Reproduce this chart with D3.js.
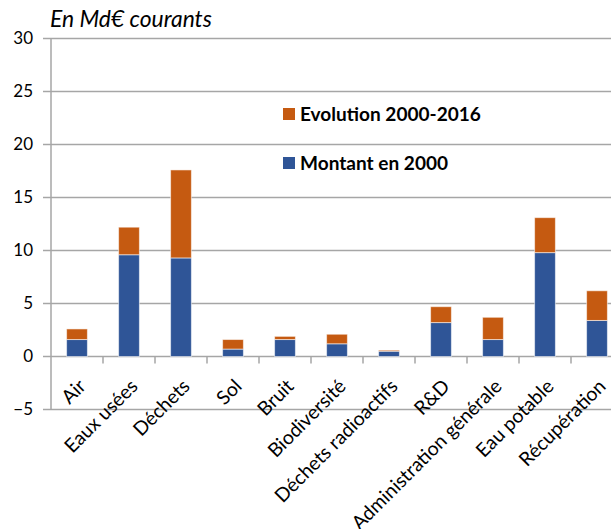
<!DOCTYPE html>
<html>
<head>
<meta charset="utf-8">
<script src="https://cdn.jsdelivr.net/npm/d3@7"></script>
<style>
  body { margin: 0; background: #fff; }
  svg text { font-family: Lato, "Liberation Sans", sans-serif; fill: #000; }
</style>
</head>
<body>
<div class="chart"></div>
<script>
// values (Md€)
const categories = ["Air", "Eaux usées", "Déchets", "Sol", "Bruit", "Biodiversité",
  "Déchets radioactifs", "R&D", "Administration générale", "Eau potable", "Récupération"];
const montant2000 = [1.6, 9.6, 9.3, 0.7, 1.6, 1.2, 0.5, 3.2, 1.6, 9.8, 3.4];
const evolution = [1.0, 2.6, 8.3, 0.9, 0.3, 0.9, 0.1, 1.5, 2.1, 3.3, 2.8];
const yTicks = [-5, 0, 5, 10, 15, 20, 25, 30];
const seriesNames = ["Montant en 2000", "Evolution 2000-2016"];
const colors = ["#2F5597", "#C55A11"];

const W = 611, H = 529;
const plotLeft = 51, plotRight = 623, plotTop = 38.5, plotBottom = 409.5;

const svg = d3.select(".chart").append("svg")
  .attr("width", W).attr("height", H);

// scale a text's font so it spans roughly the width seen in the original (Calibri there)
function fitFont(sel, width) {
  const n = sel.node();
  const fs = +sel.attr("font-size");
  sel.attr("font-size", fs * width / n.getComputedTextLength());
}

const rows = categories.map((c, i) => ({ cat: c, Montant: montant2000[i], Evolution: evolution[i] }));
const stack = d3.stack().keys(["Montant", "Evolution"]);
const series = stack(rows);

const x = d3.scaleBand().domain(categories).range([plotLeft, plotRight]).padding(0);
const y = d3.scaleLinear().domain([-5, 30]).range([plotBottom, plotTop]);

// gridlines
svg.append("g").selectAll("line")
  .data(yTicks)
  .join("line")
  .attr("x1", plotLeft - 8).attr("x2", plotRight)
  .attr("y1", d => y(d)).attr("y2", d => y(d))
  .attr("stroke", "#a6a6a6").attr("stroke-width", 1.5);

// y axis labels
const yAxis = d3.axisLeft(y).tickValues(yTicks).tickSize(0).tickPadding(18);
svg.append("g")
  .attr("transform", `translate(${plotLeft},0)`)
  .call(yAxis)
  .call(g => g.select(".domain").remove())
  .call(g => g.selectAll("text").attr("font-size", 17).style("font-family", "Lato, sans-serif"));

// vertical axis line
svg.append("line")
  .attr("x1", plotLeft).attr("x2", plotLeft)
  .attr("y1", plotTop).attr("y2", plotBottom)
  .attr("stroke", "#a6a6a6").attr("stroke-width", 1.5);

// bars
const bw = x.bandwidth() * 0.4;
svg.append("g").selectAll("g")
  .data(series)
  .join("g")
  .attr("fill", (d, i) => colors[i])
  .selectAll("rect")
  .data(d => d)
  .join("rect")
  .attr("x", d => x(d.data.cat) + (x.bandwidth() - bw) / 2)
  .attr("width", bw)
  .attr("y", d => y(d[1]))
  .attr("height", d => y(d[0]) - y(d[1]))
  .attr("stroke", "rgba(255,255,255,0.55)")
  .attr("stroke-width", 1);

// x ticks at band edges along the zero line
const edges = categories.map(c => x(c) + x.bandwidth());
svg.append("g").selectAll("line")
  .data(edges)
  .join("line")
  .attr("x1", d => d).attr("x2", d => d)
  .attr("y1", y(0)).attr("y2", y(0) + 7)
  .attr("stroke", "#a6a6a6").attr("stroke-width", 1.5);

// x labels, rotated
const xLabels = svg.append("g").selectAll("text")
  .data(categories)
  .join("text")
  .attr("transform", d => `translate(${x(d) + x.bandwidth() / 2 + 10},${y(0) + 31}) rotate(-45)`)
  .attr("text-anchor", "end")
  .attr("font-size", 17)
  .text(d => d);
const longest = xLabels.filter(d => d === "Administration générale");
fitFont(longest, 203);
xLabels.attr("font-size", longest.attr("font-size"));

// title
svg.append("text")
  .attr("x", 50).attr("y", 27)
  .attr("font-size", 18)
  .attr("font-style", "italic")
  .text("En Md€ courants")
  .call(fitFont, 162);

// legend
const legend = svg.append("g").selectAll("g")
  .data([1, 0])
  .join("g")
  .attr("transform", (d, i) => `translate(283,${108 + i * 49})`);
legend.append("rect")
  .attr("width", 12).attr("height", 12)
  .attr("fill", d => colors[d]);
const legText = legend.append("text")
  .attr("x", 17).attr("y", 13)
  .attr("font-size", 17)
  .attr("font-weight", "bold")
  .text(d => seriesNames[d]);
fitFont(legText.filter(d => d === 1), 181);
legText.attr("font-size", legText.filter(d => d === 1).attr("font-size"));
</script>
</body>
</html>
